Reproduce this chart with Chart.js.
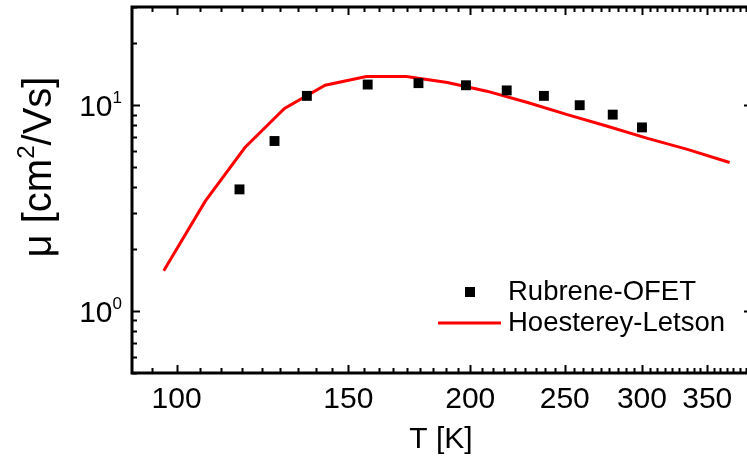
<!DOCTYPE html>
<html>
<head>
<meta charset="utf-8">
<script src="https://cdn.jsdelivr.net/npm/chart.js@4/dist/chart.umd.min.js"></script>
<style>
  html, body { margin: 0; padding: 0; overflow: hidden; background: #fff; }
  #wrap { width: 760px; height: 457px; }
</style>
</head>
<body>
<div id="wrap"><canvas id="plot" width="760" height="457"></canvas></div>
<script>
// measured points (Rubrene OFET)
const temps = [116, 126, 136, 157, 177, 198, 218, 238, 259, 280, 300];
const mobility = [3.9, 6.7, 11.1, 12.6, 12.8, 12.5, 11.8, 11.1, 10.0, 9.0, 7.8];

// model curve (Hoesterey-Letson)
const modelT = [97, 107, 117.5, 129, 142, 156.5, 172, 189.5, 208, 229, 251.5, 276.5, 304, 334, 369];
const modelMu = [1.57, 3.42, 6.23, 9.64, 12.5, 13.8, 13.8, 12.9, 11.7, 10.3, 9.0, 7.9, 6.9, 6.1, 5.27];

const xMajor = [100, 150, 200, 250, 300, 350];
const yMajor = [1, 10];

const font = '"Liberation Sans", Arial, sans-serif';

function drawFrame(chart) {
  const ctx = chart.ctx;
  const a = chart.chartArea;
  const xs = chart.scales.x, ys = chart.scales.y;
  ctx.save();
  ctx.strokeStyle = '#000';
  ctx.fillStyle = '#000';

  // ticks on all 4 sides, pointing inward
  ctx.lineWidth = 2;
  ctx.beginPath();
  // x: majors every 50, 8 minors in between
  for (let m = 50; m <= 400; m += 50) {
    for (let k = 0; k < 9; k++) {
      const v = m + k * 50 / 9;
      if (v < xs.min || v > xs.max) continue;
      const px = Math.round(xs.getPixelForValue(v)) + 0.5;
      const len = k === 0 ? 8 : 5;
      ctx.moveTo(px, a.bottom); ctx.lineTo(px, a.bottom - len);
      ctx.moveTo(px, a.top); ctx.lineTo(px, a.top + len);
    }
  }
  // y: log decades with 2..9 minors
  for (let d = 0.1; d <= 100; d *= 10) {
    for (let k = 1; k <= 9; k++) {
      const v = d * k;
      if (v < ys.min * 0.999 || v > ys.max * 1.001) continue;
      const py = Math.round(ys.getPixelForValue(v)) + 0.5;
      const len = k === 1 ? 8 : 5;
      ctx.moveTo(a.left, py); ctx.lineTo(a.left + len, py);
      ctx.moveTo(a.right, py); ctx.lineTo(a.right - len, py);
    }
  }
  ctx.stroke();

  ctx.lineWidth = 3;
  ctx.strokeRect(a.left, a.top, a.right - a.left, a.bottom - a.top);

  // x tick labels
  ctx.font = '30px ' + font;
  ctx.textAlign = 'center';
  ctx.textBaseline = 'alphabetic';
  xMajor.forEach(v => {
    ctx.fillText(String(v), xs.getPixelForValue(v), a.bottom + 35);
  });

  // y tick labels 10^n
  yMajor.forEach(v => {
    const py = ys.getPixelForValue(v);
    const exp = String(Math.round(Math.log10(v)));
    ctx.font = '17px ' + font;
    const ew = ctx.measureText(exp).width;
    ctx.textAlign = 'left';
    ctx.fillText(exp, a.left - 10 - ew, py - 2);
    ctx.font = '30px ' + font;
    ctx.textAlign = 'right';
    ctx.fillText('10', a.left - 10 - ew, py + 11);
  });

  // axis titles
  ctx.font = '30px ' + font;
  ctx.textAlign = 'center';
  ctx.fillText('T [K]', 441, 448);

  ctx.translate(51, 167);
  ctx.rotate(-Math.PI / 2);
  ctx.textAlign = 'left';
  const p1 = 'μ [cm', p2 = '2', p3 = '/Vs]';
  ctx.font = '40px ' + font;
  const w1 = ctx.measureText(p1).width, w3 = ctx.measureText(p3).width;
  ctx.font = '24px ' + font;
  const w2 = ctx.measureText(p2).width;
  let x0 = -(w1 + w2 + w3) / 2;
  ctx.font = '40px ' + font;
  ctx.fillText(p1, x0, 0);
  ctx.font = '24px ' + font;
  ctx.fillText(p2, x0 + w1, -17);
  ctx.font = '40px ' + font;
  ctx.fillText(p3, x0 + w1 + w2, 0);
  ctx.restore();

  // legend
  const ds = chart.data.datasets;
  ctx.save();
  ctx.font = '27.5px ' + font;
  ctx.textAlign = 'left';
  ctx.textBaseline = 'middle';
  ctx.fillStyle = ds[0].backgroundColor;
  ctx.fillRect(465, 287, 10, 10);
  ctx.fillStyle = '#000';
  ctx.fillText(ds[0].label, 508, 292);
  ctx.strokeStyle = ds[1].borderColor;
  ctx.lineWidth = ds[1].borderWidth;
  ctx.beginPath();
  ctx.moveTo(438, 323); ctx.lineTo(501, 323);
  ctx.stroke();
  ctx.fillText(ds[1].label, 508, 323);
  ctx.restore();
}

new Chart(document.getElementById('plot'), {
  type: 'line',
  data: {
    datasets: [
      {
        label: 'Rubrene-OFET',
        data: temps.map((t, i) => ({ x: t, y: mobility[i] })),
        showLine: false,
        pointStyle: 'rect',
        pointRadius: 7,
        pointBorderWidth: 0,
        backgroundColor: '#000',
        borderColor: '#000',
        order: 1
      },
      {
        label: 'Hoesterey-Letson',
        data: modelT.map((t, i) => ({ x: t, y: modelMu[i] })),
        borderColor: '#ff0000',
        borderWidth: 3,
        pointRadius: 0,
        tension: 0,
        fill: false,
        order: 2
      }
    ]
  },
  options: {
    responsive: false,
    animation: false,
    devicePixelRatio: 1,
    layout: { padding: { left: 132, top: 6, right: 8, bottom: 84 } },
    plugins: { legend: { display: false }, tooltip: { enabled: false } },
    scales: {
      x: { type: 'logarithmic', min: 90, max: 389, display: false },
      y: { type: 'logarithmic', min: 0.5, max: 30, display: false }
    }
  },
  plugins: [{ id: 'frame', afterDraw: drawFrame }]
});
</script>
</body>
</html>
